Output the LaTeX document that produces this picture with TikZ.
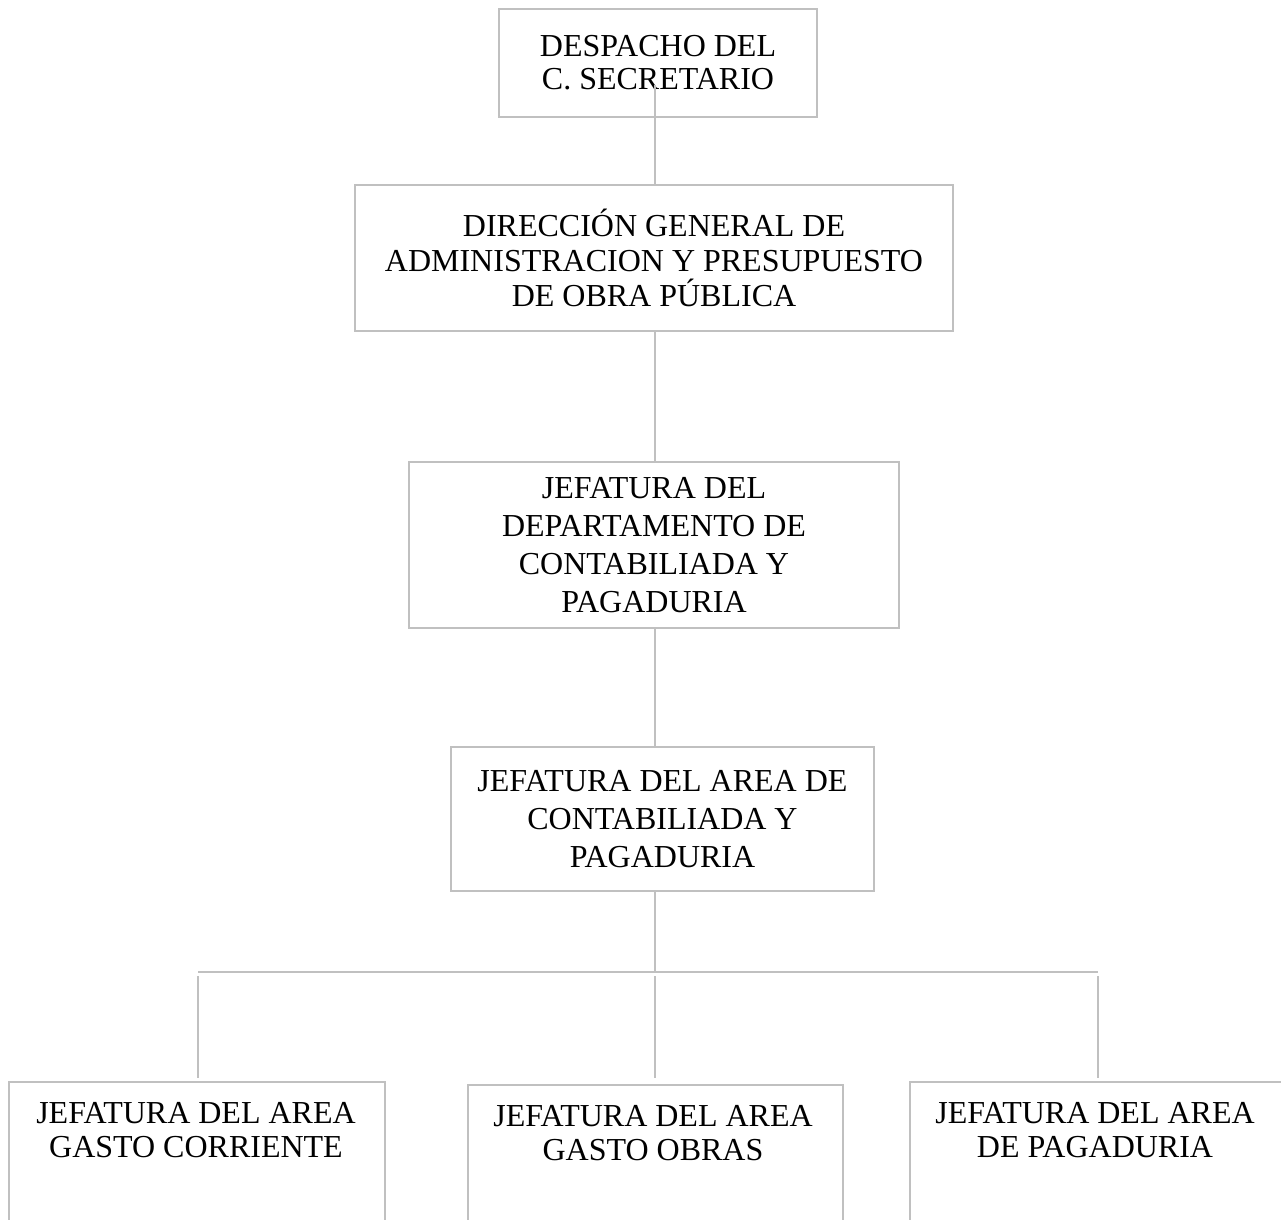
\documentclass[tikz,border=0pt]{standalone}
\usepackage{fontspec}
\setmainfont{Liberation Serif}
\definecolor{linegray}{RGB}{192,192,192}
\begin{document}
\begin{tikzpicture}[x=1pt,y=-1pt,
  box/.style={draw=linegray, line width=2pt, rectangle, inner sep=0pt, align=center},
  txt/.style={align=center, inner sep=0pt},
  conn/.style={draw=linegray, line width=2pt}]
\useasboundingbox (0,0) rectangle (1281,1219);
\clip (0,0) rectangle (1281,1219);
% top boxes
\node[box, minimum width=318pt, minimum height=108pt, font=\fontsize{32}{33}\selectfont] (b1) at (658,63)
  {DESPACHO DEL\\C. SECRETARIO};
\node[box, minimum width=598pt, minimum height=146pt, font=\fontsize{32}{35}\selectfont] (b2) at (654,258)
  {DIRECCIÓN GENERAL DE\\ADMINISTRACION Y PRESUPUESTO\\DE OBRA PÚBLICA};
\node[box, minimum width=490pt, minimum height=166pt, font=\fontsize{32}{38}\selectfont] (b3) at (654,545)
  {JEFATURA DEL\\DEPARTAMENTO DE\\CONTABILIADA Y\\PAGADURIA};
\node[box, minimum width=423pt, minimum height=144pt, font=\fontsize{32}{38}\selectfont] (b4) at (662.5,819)
  {JEFATURA DEL AREA DE\\CONTABILIADA Y\\PAGADURIA};
% bottom boxes (cut off by the page edge)
\node[box, anchor=north west, minimum width=376pt, minimum height=220pt] (b5) at (8,1081) {};
\node[box, anchor=north west, minimum width=375pt, minimum height=220pt] (b6) at (467,1084) {};
\node[box, anchor=north west, minimum width=420pt, minimum height=220pt] (b7) at (909,1081) {};
\node[txt, font=\fontsize{32}{34}\selectfont] (t5) at (196,1130) {JEFATURA DEL AREA\\GASTO CORRIENTE};
\node[txt, font=\fontsize{32}{34}\selectfont] (t6) at (653,1133) {JEFATURA DEL AREA\\GASTO OBRAS};
\node[txt, font=\fontsize{32}{34}\selectfont] (t7) at (1095,1130) {JEFATURA DEL AREA\\DE PAGADURIA};
% connectors
\coordinate (c1) at (655,85);
\coordinate (j) at (655,972);
\coordinate (hl) at (198,972);
\coordinate (hr) at (1098,972);
\coordinate (v1) at (198,976);
\coordinate (v2) at (655,976);
\coordinate (v3) at (1098,976);
\coordinate (e1) at (198,1078);
\coordinate (e2) at (655,1078);
\coordinate (e3) at (1098,1078);
\draw[conn] (c1) -- (c1 |- b2.north);
\draw[conn] (b2.south -| c1) -- (b3.north -| c1);
\draw[conn] (b3.south -| c1) -- (b4.north -| c1);
\draw[conn] (b4.south -| c1) -- (j);
\draw[conn] (hl) -- (hr);
\draw[conn] (v1) -- (e1);
\draw[conn] (v2) -- (e2);
\draw[conn] (v3) -- (e3);
\end{tikzpicture}
\end{document}
